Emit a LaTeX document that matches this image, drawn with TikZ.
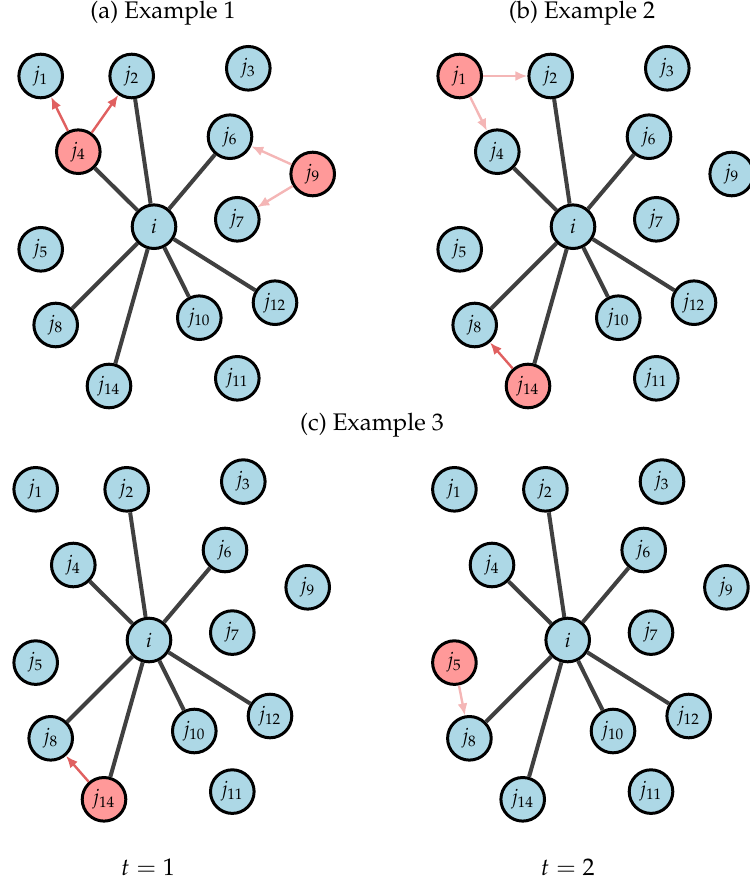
\documentclass[tikz,border=0pt]{standalone}
\usepackage[T1]{fontenc}
\usepackage{mathpazo}
\usetikzlibrary{arrows.meta}
\definecolor{nodeblue}{HTML}{ADD8E6}
\definecolor{nodered}{HTML}{FF9999}
\definecolor{arrred}{HTML}{E06060}
\definecolor{arrpink}{HTML}{F4B6B6}
\definecolor{edgegray}{HTML}{404040}
\tikzset{
 jnode/.style={circle, draw=black, line width=1.5pt, minimum size=21.8pt, inner sep=0pt, font=\fontsize{10}{12}\selectfont},
 bluenode/.style={jnode, fill=nodeblue},
 rednode/.style={jnode, fill=nodered},
 edge/.style={draw=edgegray, line width=2pt},
 strongarr/.style={draw=arrred, line width=1.2pt, -{Latex[length=6pt,width=5pt]}},
 weakarr/.style={draw=arrpink, line width=1.2pt, -{Latex[length=6pt,width=5pt]}},
 title/.style={font=\fontsize{12}{14}\selectfont},
}
\newcommand\markred[1]{\expandafter\gdef\csname red#1\endcsname{}}
\markred{a4}\markred{a9}\markred{b1}\markred{b14}\markred{c14}\markred{d5}
\newcommand\graphpanel[3]{%
\begin{scope}[shift={(#2,#3)}]
 \foreach \k/\px/\py in {1/40.7/76, 2/131.7/76, 3/248.3/68.3, 4/78.3/151.7, 5/40.7/249.3, 6/230/136.7, 7/237.3/219.3, 8/55.7/325, 9/312.7/174, 10/199.3/317.7, 11/237.3/378.3, 12/275/302.7, 14/109/386}{%
   \ifcsname red#1\k\endcsname
     \node[rednode] (#1j\k) at (\px,\py) {$j_{\k}$};
   \else
     \node[bluenode] (#1j\k) at (\px,\py) {$j_{\k}$};
   \fi
 }
 \node[bluenode] (#1i) at (154,226.7) {$i$};
 \foreach \k in {2,4,6,8,10,12,14}{\draw[edge] (#1i) -- (#1j\k);}
\end{scope}}
\begin{document}
\begin{tikzpicture}[x=0.5pt,y=-0.5pt]
\useasboundingbox (0,0) rectangle (749,882);
\graphpanel{a}{0}{0}
\graphpanel{b}{419}{0}
\graphpanel{c}{-5}{413.3}
\graphpanel{d}{413.7}{413.3}
\draw[strongarr] (aj4) -- (aj1);
\draw[strongarr] (aj4) -- (aj2);
\draw[weakarr] (aj9) -- (aj6);
\draw[weakarr] (aj9) -- (aj7);
\draw[weakarr] (bj1) -- (bj2);
\draw[weakarr] (bj1) -- (bj4);
\draw[strongarr] (bj14) -- (bj8);
\draw[strongarr] (cj14) -- (cj8);
\draw[weakarr] (dj5) -- (dj8);
\node[title] (ta) at (163,13) {(a) Example 1};
\node[title] (tb) at (582,13) {(b) Example 2};
\node[title] (tc) at (372,425) {(c) Example 3};
\node[title] (t1) at (148,867) {$t=1$};
\node[title] (t2) at (567.7,867) {$t=2$};
\end{tikzpicture}
\end{document}
